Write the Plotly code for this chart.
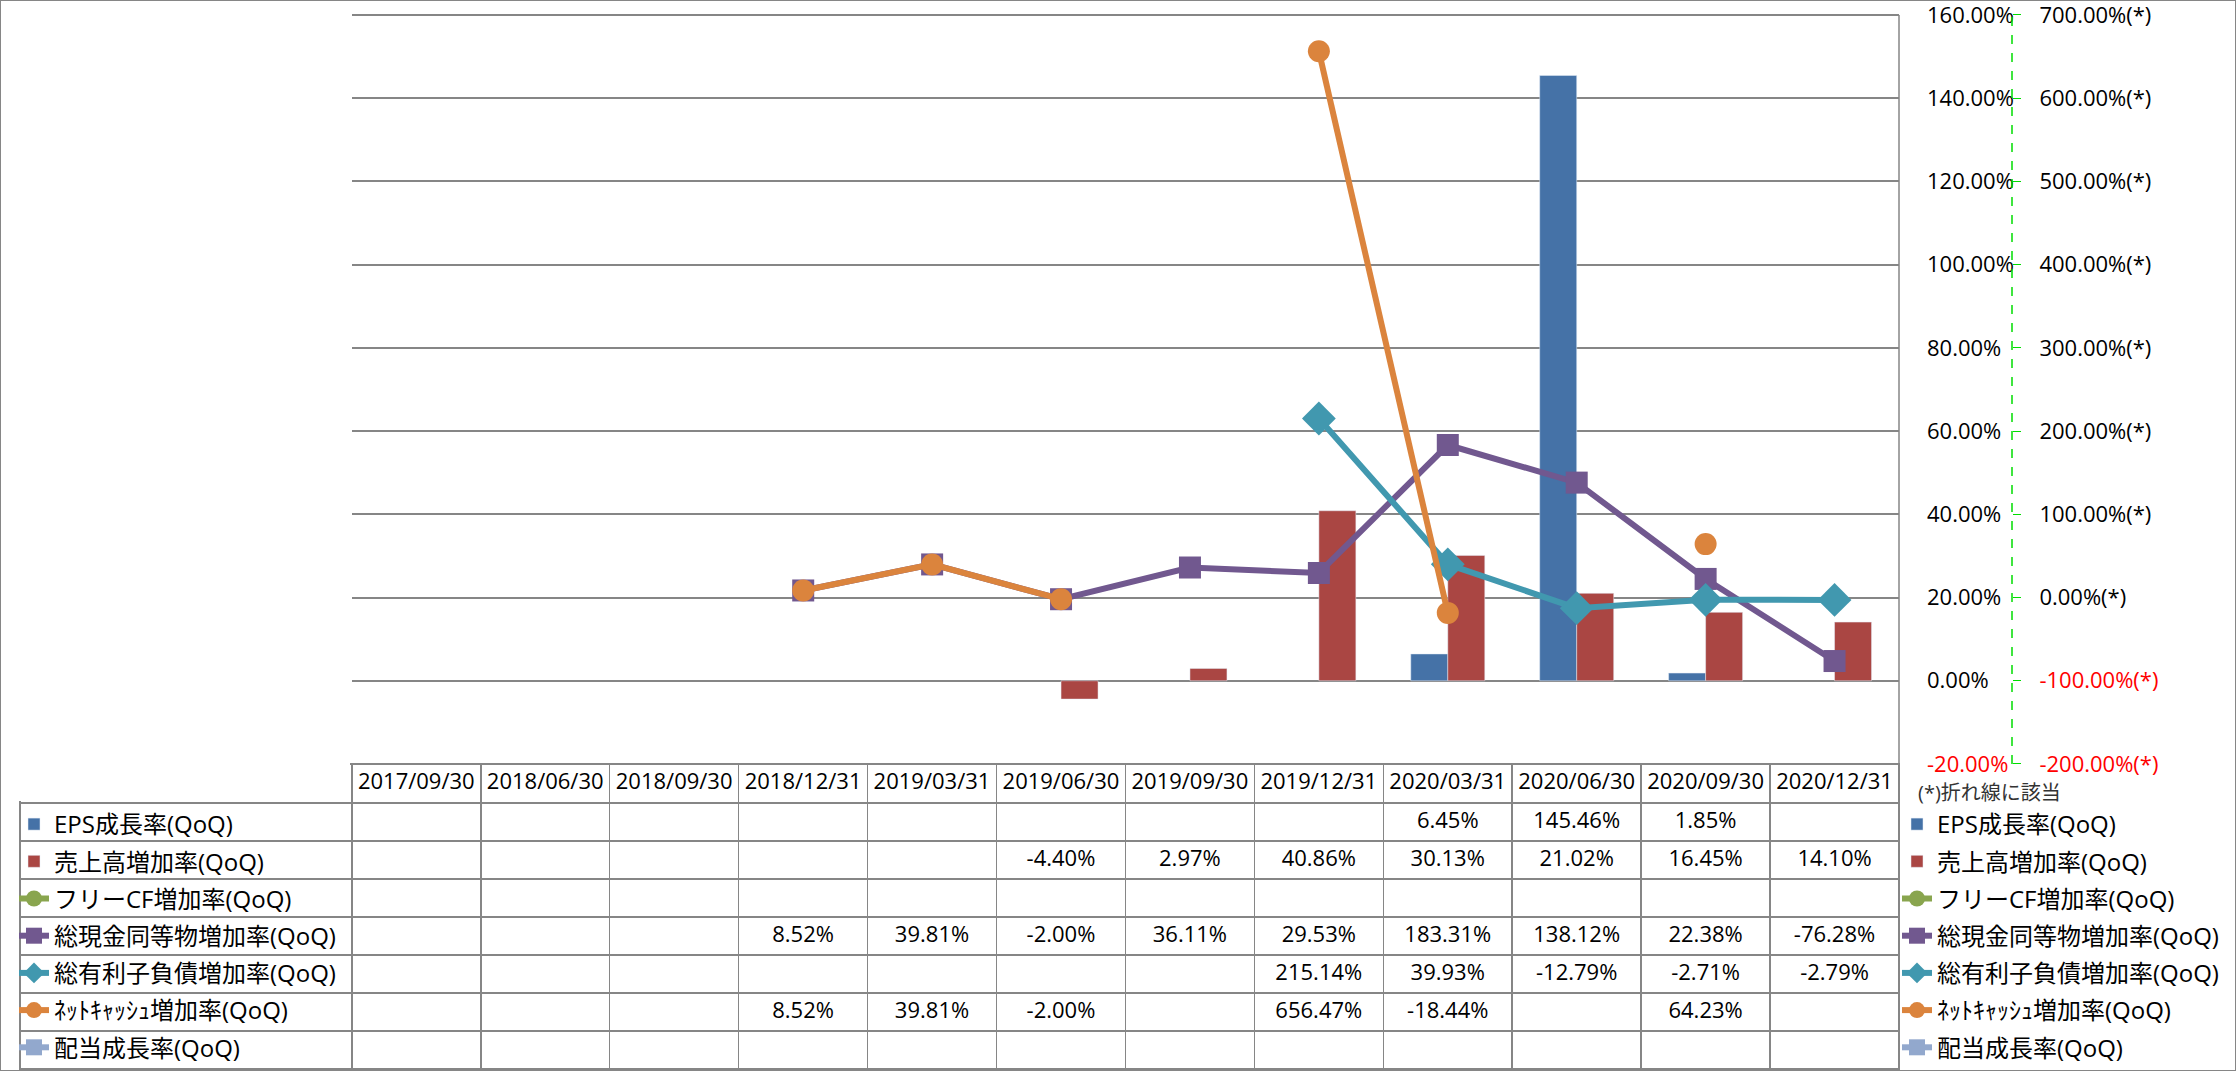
import plotly.graph_objects as go

# ---------------- data ----------------
dates = ["2017/09/30", "2018/06/30", "2018/09/30", "2018/12/31", "2019/03/31", "2019/06/30",
         "2019/09/30", "2019/12/31", "2020/03/31", "2020/06/30", "2020/09/30", "2020/12/31"]

eps_growth = [None, None, None, None, None, None, None, None, 6.45, 145.46, 1.85, None]
sales_growth = [None, None, None, None, None, -4.40, 2.97, 40.86, 30.13, 21.02, 16.45, 14.10]
fcf_growth = [None] * 12
cash_growth = [None, None, None, 8.52, 39.81, -2.00, 36.11, 29.53, 183.31, 138.12, 22.38, -76.28]
debt_growth = [None, None, None, None, None, None, None, 215.14, 39.93, -12.79, -2.71, -2.79]
netcash_growth = [None, None, None, 8.52, 39.81, -2.00, None, 656.47, -18.44, None, 64.23, None]
dividend_growth = [None] * 12

names = ["EPS成長率(QoQ)", "売上高増加率(QoQ)", "フリーCF増加率(QoQ)", "総現金同等物増加率(QoQ)",
         "総有利子負債増加率(QoQ)", "ﾈｯﾄｷｬｯｼｭ増加率(QoQ)", "配当成長率(QoQ)"]

left_ticks = [-20, 0, 20, 40, 60, 80, 100, 120, 140, 160]
right_ticks = [-200, -100, 0, 100, 200, 300, 400, 500, 600, 700]

# ---------------- styling ----------------
W, H = 2236, 1071
FONT = "Open Sans, Noto Sans CJK JP, sans-serif"
GRID = "#868686"
C_EPS, C_SALES, C_FCF, C_CASH, C_DEBT, C_NET, C_DIV = (
    "#4572A7", "#AA4643", "#89A54E", "#71588F", "#4198AF", "#DB843D", "#92A8CD")


def xp(p):
    return p / W


def yp(p):
    return 1 - p / H


PLOT_L, PLOT_R, PLOT_B = 352, 1899, 764
PX_PER_PCT = (764 - 15) / 180.0
Y_TOP_EXTRA = 1.0                       # small headroom so the top gridline is not on the edge
PLOT_T = 15 - Y_TOP_EXTRA * PX_PER_PCT

fig = go.Figure()

bar_specs = [
    (eps_growth, names[0], C_EPS, "a"),
    (sales_growth, names[1], C_SALES, "b"),
]
line_specs = [
    (fcf_growth, names[2], C_FCF, "circle"),
    (cash_growth, names[3], C_CASH, "square"),
    (debt_growth, names[4], C_DEBT, "diamond"),
    (netcash_growth, names[5], C_NET, "circle"),
    (dividend_growth, names[6], C_DIV, "square"),
]

# right-hand legend uses the real traces; legend2 provides the row keys of the data table
for leg, key in (("legend", "r"), ("legend2", "t")):
    real = leg == "legend"
    for i, (vals, nm, col, og) in enumerate(bar_specs):
        fig.add_trace(go.Bar(x=dates, y=vals if real else [None] * len(dates), name=nm,
                             marker_color=col, offsetgroup=og, legend=leg,
                             legendgroup=f"{key}{i}", yaxis="y", showlegend=True))
    for j, (vals, nm, col, sym) in enumerate(line_specs):
        fig.add_trace(go.Scatter(
            x=dates, y=vals if real else [None] * len(dates), name=nm, yaxis="y2",
            mode="lines+markers", line=dict(color=col, width=6), connectgaps=False,
            marker=dict(color=col, symbol=sym, size=26 if sym == "diamond" else 22,
                        line=dict(width=0)),
            legend=leg, legendgroup=f"{key}{j + 2}", showlegend=True))


def fmt(v):
    return "" if v is None else f"{v:.2f}%"


series = [eps_growth, sales_growth, fcf_growth, cash_growth, debt_growth, netcash_growth, dividend_growth]
columns = [[""] * len(series)] + [[fmt(s[i]) for s in series] for i in range(len(dates))]

fig.add_trace(go.Table(
    domain=dict(x=[xp(20), xp(PLOT_R)], y=[yp(1070), yp(PLOT_B)]),
    columnwidth=[332] + [129] * len(dates),
    header=dict(values=[""] + dates, height=39, align="center",
                line=dict(color=GRID, width=1.5), fill=dict(color="white"),
                font=dict(family=FONT, size=22, color="#000000")),
    cells=dict(values=columns, height=38, align=["left"] + ["center"] * len(dates),
               line=dict(color=GRID, width=1.5), fill=dict(color="white"),
               font=dict(family=FONT, size=22, color="#000000")),
))

left_text = [(f'<span style="color:#FF0000">{v:.2f}%</span>' if v < 0 else f"{v:.2f}%")
             for v in left_ticks]
right_text = [(f'<span style="color:#FF0000">{v:.2f}%(*)</span>' if v < 0 else f"{v:.2f}%(*)")
              for v in right_ticks]

legend_common = dict(font=dict(family=FONT, size=24, color="#000000"),
                     traceorder="grouped", tracegroupgap=3, itemwidth=30,
                     bgcolor="rgba(0,0,0,0)", borderwidth=0, xanchor="left", yanchor="top")

fig.update_layout(
    width=W, height=H,
    margin=dict(l=0, r=0, t=0, b=0, autoexpand=False),
    paper_bgcolor="white", plot_bgcolor="white",
    font=dict(family=FONT, size=22, color="#000000"),
    barmode="group", bargap=0.426, bargroupgap=0,
    xaxis=dict(domain=[xp(PLOT_L), xp(PLOT_R)], range=[-0.5, 11.5], type="category",
               showticklabels=False, showgrid=False, zeroline=False, showline=False,
               anchor="y"),
    yaxis=dict(domain=[yp(PLOT_B), yp(PLOT_T)], range=[-20, 160 + Y_TOP_EXTRA], side="right",
               tickvals=left_ticks, ticktext=left_text, showgrid=True, gridcolor=GRID,
               gridwidth=1.5, showline=False, zeroline=False, ticklabeloverflow="allow",
               ticks="", ticklabelstandoff=27, anchor="x",
               tickfont=dict(family=FONT, size=22, color="#000000")),
    yaxis2=dict(domain=[yp(PLOT_B), yp(PLOT_T)], range=[-200, 700 + 5 * Y_TOP_EXTRA], side="right",
                overlaying="y", anchor="free", position=xp(2012), ticklabeloverflow="allow",
                tickvals=right_ticks, ticktext=right_text, showgrid=False, zeroline=False,
                showline=False, ticks="outside", ticklen=8, tickcolor="#00DD00", tickwidth=1,
                ticklabelstandoff=14,
                tickfont=dict(family=FONT, size=22, color="#000000")),
    legend=dict(x=xp(1897), y=yp(802), **legend_common),
    legend2=dict(x=xp(14), y=yp(802), **legend_common),
    showlegend=True,
    shapes=[
        dict(type="line", xref="paper", yref="paper", x0=xp(2012), x1=xp(2012),
             y0=yp(PLOT_B), y1=yp(15), line=dict(color="#00DD00", width=1.5, dash="dash")),
        dict(type="line", xref="paper", yref="paper", x0=xp(PLOT_R), x1=xp(PLOT_R),
             y0=yp(1070), y1=yp(15), line=dict(color=GRID, width=1.5)),
        dict(type="rect", xref="paper", yref="paper", x0=xp(17), x1=xp(350),
             y0=yp(801), y1=yp(755), fillcolor="white", line=dict(width=0), layer="above"),
        dict(type="rect", xref="paper", yref="paper", x0=0, x1=1, y0=0, y1=1,
             line=dict(color=GRID, width=2)),
    ],
    annotations=[
        dict(text="(*)折れ線に該当", xref="paper", yref="paper", x=xp(1916), y=yp(792),
             xanchor="left", yanchor="middle", showarrow=False,
             font=dict(family=FONT, size=20, color="#333333")),
    ],
)

fig.write_html("out.html", config={"displayModeBar": False},
               post_script="document.body.style.margin='0px';")
